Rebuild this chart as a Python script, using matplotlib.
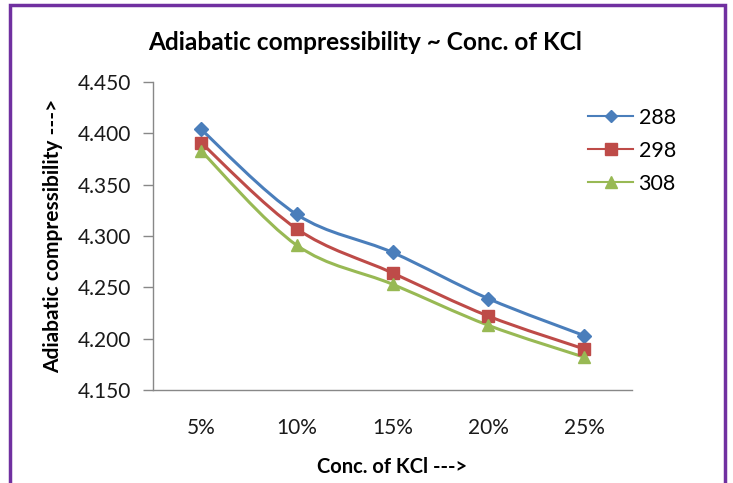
import numpy as np
import matplotlib.pyplot as plt
from matplotlib.path import Path
from matplotlib.patches import PathPatch, Rectangle
from matplotlib.lines import Line2D

plt.rcParams['font.family'] = ['Lato', 'DejaVu Sans']

conc = ['5%', '10%', '15%', '20%', '25%']
temps = ['288', '298', '308']
beta_288 = [4.404, 4.321, 4.284, 4.239, 4.203]
beta_298 = [4.391, 4.307, 4.264, 4.222, 4.190]
beta_308 = [4.383, 4.291, 4.253, 4.213, 4.182]
colors = ['#4a7ebb', '#be4b48', '#98b954']
markers = ['D', 's', '^']
msizes = [7, 9, 9]


def smooth_path(x, y):
    # Excel-style smoothed line: Catmull-Rom as cubic Bezier segments
    x = np.asarray(x, float)
    y = np.asarray(y, float)
    px = np.concatenate([[x[0]], x, [x[-1]]])
    py = np.concatenate([[y[0]], y, [y[-1]]])
    verts = [(x[0], y[0])]
    codes = [Path.MOVETO]
    for i in range(len(x) - 1):
        c1 = (px[i + 1] + (px[i + 2] - px[i]) / 6, py[i + 1] + (py[i + 2] - py[i]) / 6)
        c2 = (px[i + 2] - (px[i + 3] - px[i + 1]) / 6, py[i + 2] - (py[i + 3] - py[i + 1]) / 6)
        verts += [c1, c2, (x[i + 1], y[i + 1])]
        codes += [Path.CURVE4] * 3
    return Path(verts, codes)


W, H = 733, 483
fig = plt.figure(figsize=(W / 100, H / 100), dpi=100)
ax = fig.add_axes([153 / W, 1 - 390 / H, (632 - 153) / W, (390 - 82) / H])

xs = np.arange(len(conc))
handles = []
for vals, c, m, ms, lab in zip([beta_288, beta_298, beta_308], colors, markers, msizes, temps):
    ax.add_patch(PathPatch(smooth_path(xs, vals), fill=False, edgecolor=c, linewidth=2.2))
    ax.plot(xs, vals, linestyle='none', marker=m, markersize=ms, color=c)
    handles.append(Line2D([], [], color=c, marker=m, markersize=ms - 1, linewidth=1.5, label=lab))

ax.set_xlim(-0.5, 4.5)
ax.set_ylim(4.150, 4.450)
ax.set_xticks(xs)
ax.set_xticklabels(conc)
ax.set_yticks(np.arange(4.150, 4.451, 0.05))
ax.yaxis.set_major_formatter(plt.FormatStrFormatter('%.3f'))
ax.tick_params(axis='x', length=0, pad=20, labelsize=15, colors='#1a1a1a')
ax.tick_params(axis='y', length=7, width=1, color='#888888', pad=9, labelsize=15, labelcolor='#1a1a1a')
for s in ['top', 'right']:
    ax.spines[s].set_visible(False)
for s in ['left', 'bottom']:
    ax.spines[s].set_color('#888888')
    ax.spines[s].set_linewidth(1)

fig.text(365 / W, 1 - 43 / H, 'Adiabatic compressibility ~ Conc. of KCl', fontsize=17.6,
         fontweight='bold', ha='center', va='center')
ax.set_xlabel('Conc. of KCl --->', fontsize=14.5, fontweight='bold', labelpad=14)
ax.set_ylabel('Adiabatic compressibility --->', fontsize=15, fontweight='bold', labelpad=10)

ax.legend(handles=handles, loc='upper left', bbox_to_anchor=(588 / W, 1 - 108 / H),
          bbox_transform=fig.transFigure, frameon=False, borderpad=0, borderaxespad=0,
          fontsize=15.5, handlelength=2.1, labelspacing=0.6, handletextpad=0.25)

fig.patches.append(Rectangle((10 / W, -0.05), 715 / W, 1 - 5 / H + 0.05,
                             transform=fig.transFigure, fill=False, edgecolor='#7030a0', linewidth=2.5))

fig.savefig('out.png', dpi=100)
